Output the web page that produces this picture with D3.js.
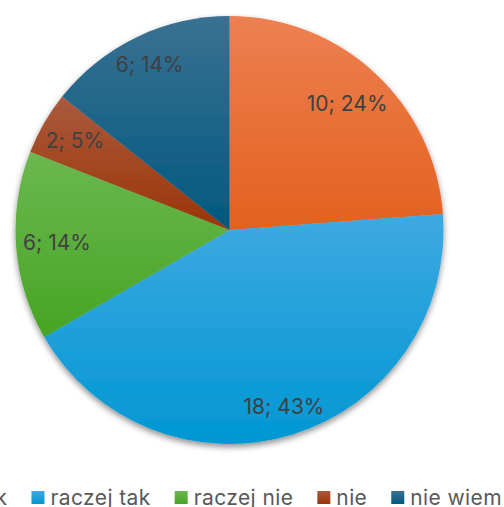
<!DOCTYPE html>
<html>
<head>
<meta charset="utf-8">
<script src="https://cdn.jsdelivr.net/npm/d3@7"></script>
<style>
	html, body { margin:0; padding:0; background:#fff; overflow:hidden; }
	text { font-family: Inter, "Open Sans", sans-serif; }
</style>
</head>
<body>
<div id="app"></div>
<script>
const categories = ["tak", "raczej tak", "raczej nie", "nie", "nie wiem"];
const counts = [10, 18, 6, 2, 6];
const percents = ["24%", "43%", "14%", "5%", "14%"];
const colorsTop = ["#ED8052", "#3FA9E1", "#6BB84F", "#AA5A3E", "#3A7192"];
const colorsBottom = ["#E3611E", "#0097D3", "#47A424", "#9A3507", "#00587F"];

const W = 504, H = 507;
const cx = 229.5, cy = 230, R = 214;

const svg = d3.select("#app").append("svg")
	.attr("width", W).attr("height", H);

const defs = svg.append("defs");
const shadow = defs.append("filter").attr("id", "shadow")
	.attr("x", "-10%").attr("y", "-10%").attr("width", "120%").attr("height", "125%");
shadow.append("feDropShadow")
	.attr("dx", 0).attr("dy", 3).attr("stdDeviation", 3)
	.attr("flood-color", "#000").attr("flood-opacity", 0.45);

categories.forEach(function(c, i){
	let g = defs.append("linearGradient").attr("id", "grad" + i)
		.attr("x1", 0).attr("y1", 0).attr("x2", 0).attr("y2", 1);
	g.append("stop").attr("offset", "0%").attr("stop-color", colorsTop[i]);
	g.append("stop").attr("offset", "100%").attr("stop-color", colorsBottom[i]);
});

const pie = d3.pie().sort(null).value(d => d)(counts);
const arc = d3.arc().innerRadius(0).outerRadius(R);

const pieG = svg.append("g").attr("transform", "translate(" + cx + "," + cy + ")");
pieG.append("g").attr("filter", "url(#shadow)")
	.selectAll("path").data(pie).enter().append("path")
	.attr("d", arc)
	.attr("fill", (d, i) => "url(#grad" + i + ")");

// labels: pushed out along the mid angle until the box nearly touches the rim
const labels = pieG.append("g").selectAll("text").data(pie).enter().append("text")
	.attr("text-anchor", "middle")
	.attr("dy", "0.35em")
	.attr("font-size", 21)
	.attr("fill", "#404040")
	.text((d, i) => counts[i] + "; " + percents[i]);

labels.each(function(d){
	let bb = this.getBBox(),
		w = bb.width / 2, h = 8,
		a = (d.startAngle + d.endAngle) / 2,
		ux = Math.sin(a), uy = -Math.cos(a),
		lim = R - 6, dist = 0;
	for(let t = 0; t < R; t += 0.5){
		let x = ux * t, y = uy * t,
			m = Math.max(
				Math.hypot(x + w, y + h), Math.hypot(x - w, y + h),
				Math.hypot(x + w, y - h), Math.hypot(x - w, y - h));
		if(m > lim) break;
		dist = t;
	}
	d3.select(this).attr("x", ux * dist).attr("y", uy * dist);
});

// legend, centred under the pie (overflows the page on both sides, as in the original)
const legend = svg.append("g").attr("transform", "translate(0,505)");
const items = legend.selectAll("g").data(categories).enter().append("g");
items.append("rect").attr("width", 13).attr("height", 13).attr("y", -14)
	.attr("fill", (d, i) => "url(#grad" + i + ")");
items.append("text").attr("x", 19).attr("y", 0)
	.attr("font-size", 21).attr("letter-spacing", 0.4).attr("fill", "#595959")
	.text(d => d);

let widths = [];
items.each(function(){ widths.push(this.querySelector("text").getComputedTextLength() + 19); });
let total = d3.sum(widths) + 24 * (widths.length - 1),
	x = cx - total / 2;
items.each(function(d, i){
	d3.select(this).attr("transform", "translate(" + x + ",0)");
	x += widths[i] + 24;
});
</script>
</body>
</html>
